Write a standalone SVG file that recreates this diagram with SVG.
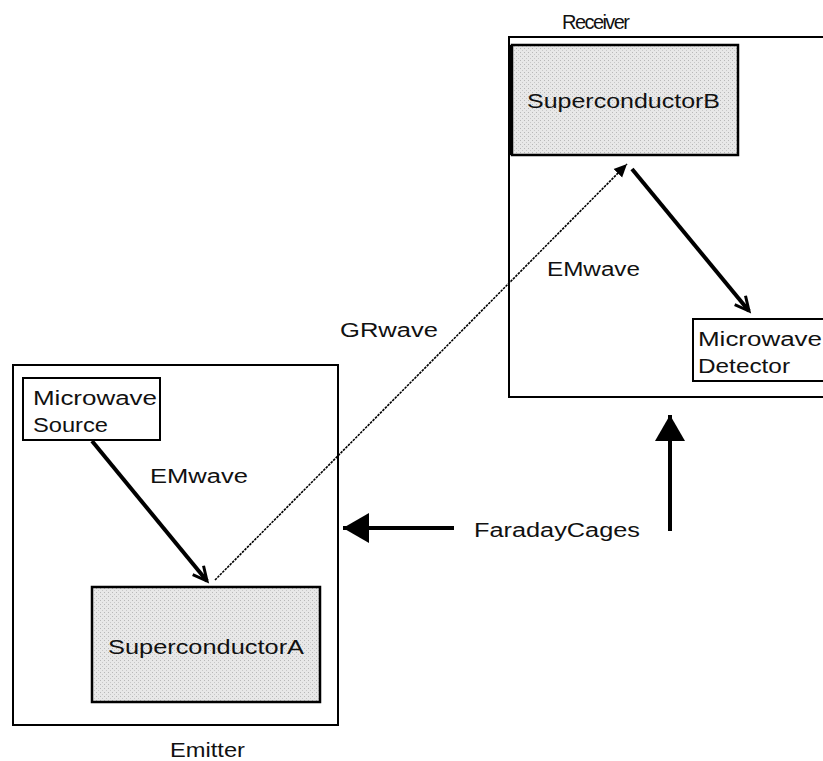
<svg xmlns="http://www.w3.org/2000/svg" width="823" height="761" viewBox="0 0 823 761">
<style>
  .box{fill:none;stroke:#000;stroke-width:2}
  .sc{fill:url(#dots);stroke:#000;stroke-width:2.5}
  .inner{fill:#fff;stroke:#000;stroke-width:2}
  text{font-family:"Liberation Sans",Arial,sans-serif;font-size:20px;fill:#111}
  .thick{stroke:#000;stroke-width:4;fill:none}
  .gr{stroke:#000;stroke-width:1.6;stroke-dasharray:2.5 1;fill:none}
</style>
<defs>
  <pattern id="dots" width="4" height="4" patternUnits="userSpaceOnUse">
    <rect width="4" height="4" fill="#e8e8e8"/>
    <rect x="0" y="0" width="1" height="1" fill="#b8b8b8"/>
    <rect x="2" y="2" width="1" height="1" fill="#c8c8c8"/>
  </pattern>
  <marker id="open" markerWidth="20" markerHeight="20" refX="16" refY="8" orient="auto" markerUnits="userSpaceOnUse" viewBox="0 0 20 16">
    <path d="M2,1 L16,8 L2,15" fill="none" stroke="#000" stroke-width="3"/>
  </marker>
  <marker id="tri" markerWidth="28" markerHeight="32" refX="26" refY="15" orient="auto" markerUnits="userSpaceOnUse" viewBox="0 0 28 30">
    <path d="M0,0 L26,15 L0,30 Z" fill="#000"/>
  </marker>
  <marker id="small" markerWidth="14" markerHeight="14" refX="13" refY="6" orient="auto" markerUnits="userSpaceOnUse" viewBox="0 0 14 12">
    <path d="M0,0 L13,6 L0,12 Z" fill="#000"/>
  </marker>
</defs>
<rect width="823" height="761" fill="#fff"/>

<g id="receiver">
  <rect class="box" x="509" y="37" width="320" height="360"/>
  <text x="562" y="29" font-size="18" textLength="68" lengthAdjust="spacing">Receiver</text>
</g>
<g id="superconductorB">
  <rect class="sc" x="512" y="45" width="226" height="110"/>
  <line x1="511" y1="45" x2="511" y2="155" stroke="#000" stroke-width="4"/>
  <text x="527" y="108" textLength="193" lengthAdjust="spacingAndGlyphs">SuperconductorB</text>
</g>
<g id="detector">
  <rect class="inner" x="693" y="319" width="140" height="62"/>
  <text x="698" y="346" textLength="124" lengthAdjust="spacingAndGlyphs">Microwave</text>
  <text x="698" y="373" textLength="92" lengthAdjust="spacingAndGlyphs">Detector</text>
</g>
<g id="emitter">
  <rect class="box" x="13" y="365" width="325" height="360"/>
  <text x="170" y="757" textLength="75" lengthAdjust="spacingAndGlyphs">Emitter</text>
</g>
<g id="source">
  <rect class="inner" x="23" y="378" width="137" height="62"/>
  <text x="33" y="405" textLength="124" lengthAdjust="spacingAndGlyphs">Microwave</text>
  <text x="33" y="432" textLength="75" lengthAdjust="spacingAndGlyphs">Source</text>
</g>
<g id="superconductorA">
  <rect class="sc" x="92" y="587" width="228" height="115"/>
  <text x="108" y="654" textLength="196" lengthAdjust="spacingAndGlyphs">SuperconductorA</text>
</g>

<g id="connectors">
  <line class="thick" x1="92" y1="441" x2="207" y2="581" marker-end="url(#open)"/>
  <line class="gr" x1="215" y1="580" x2="627" y2="164" marker-end="url(#small)"/>
  <line class="thick" x1="632" y1="169" x2="749" y2="311" marker-end="url(#open)"/>
  <line class="thick" x1="454" y1="528" x2="343" y2="528" marker-end="url(#tri)"/>
  <line class="thick" x1="670" y1="531" x2="670" y2="415" marker-end="url(#tri)"/>
</g>

<g id="labels">
  <text x="547" y="276" textLength="93" lengthAdjust="spacingAndGlyphs">EMwave</text>
  <text x="340" y="337" textLength="98" lengthAdjust="spacingAndGlyphs">GRwave</text>
  <text x="150" y="483" textLength="98" lengthAdjust="spacingAndGlyphs">EMwave</text>
  <text x="474" y="537" textLength="166" lengthAdjust="spacingAndGlyphs">FaradayCages</text>
</g>
</svg>
